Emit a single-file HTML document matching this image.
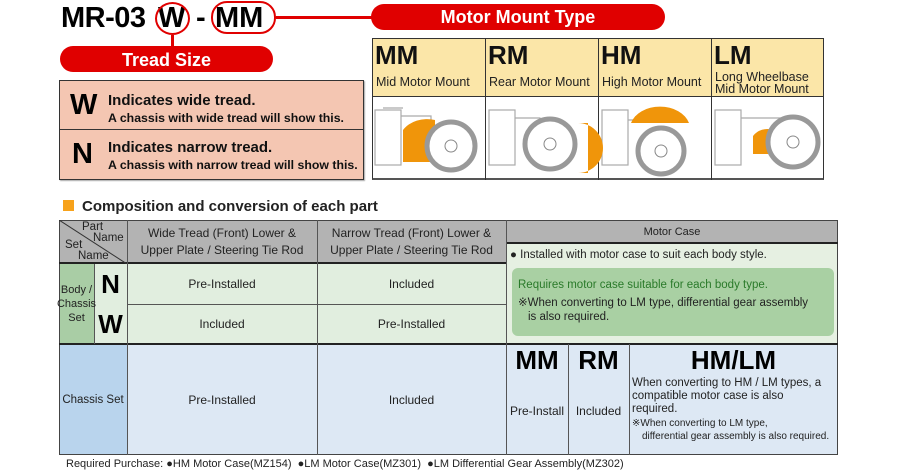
<!DOCTYPE html>
<html><head><meta charset="utf-8"><style>
*{margin:0;padding:0;box-sizing:border-box}
body{width:900px;height:476px;background:#fff;position:relative;overflow:hidden;font-family:"Liberation Sans",Arial,sans-serif;color:#111}
.a{position:absolute}
.pill{position:absolute;background:#e00000;color:#fff;font-weight:bold;border-radius:13px;text-align:center}
.c{position:absolute;display:flex;align-items:center;justify-content:center;text-align:center;font-size:12px;color:#222}
.hd{font-weight:bold;font-size:26px;line-height:26px}
.sub{font-size:12.5px;line-height:12px;color:#222}
.t{position:absolute;top:4px;font-size:29px;font-weight:bold;line-height:29px;color:#000}
</style></head><body>
<!-- title -->
<div class="t" style="left:61px;letter-spacing:-0.5px">MR-03</div>
<div class="t" style="left:158px">W</div>
<div class="t" style="left:196px">-</div>
<div class="t" style="left:215px">MM</div>
<div class="a" style="left:155px;top:2px;width:35px;height:33px;border:2.5px solid #e00000;border-radius:50%"></div>
<div class="a" style="left:211px;top:1px;width:65px;height:33px;border:2.5px solid #e00000;border-radius:16px"></div>
<div class="a" style="left:276px;top:16px;width:96px;height:2.5px;background:#e00000"></div>
<div class="a" style="left:171px;top:35px;width:2.5px;height:12px;background:#e00000"></div>
<div class="pill" style="left:371px;top:4px;width:294px;height:26px;font-size:18px;line-height:27px">Motor Mount Type</div>
<div class="pill" style="left:60px;top:46px;width:213px;height:26px;font-size:18px;line-height:28px">Tread Size</div>
<!-- pink box -->
<div class="a" style="left:59px;top:80px;width:305px;height:100px;background:#f4c6b2;border:1px solid #333;box-shadow:1px 1px 1px #aaa"></div>
<div class="a" style="left:59px;top:129px;width:305px;height:1px;background:#333"></div>
<div class="a" style="left:70px;top:89px;font-size:29px;font-weight:bold;color:#000">W</div>
<div class="a" style="left:72px;top:138px;font-size:29px;font-weight:bold;color:#000">N</div>
<div class="a" style="left:108px;top:92px;font-size:15px;font-weight:bold;line-height:17px">Indicates wide tread.<br><span style="font-size:12.3px">A chassis with wide tread will show this.</span></div>
<div class="a" style="left:108px;top:139px;font-size:15px;font-weight:bold;line-height:17px">Indicates narrow tread.<br><span style="font-size:12.3px">A chassis with narrow tread will show this.</span></div>
<!-- motor mount table -->
<div class="a" style="left:372px;top:38px;width:452px;height:142px;border:1px solid #333;border-bottom:2px solid #555;background:#fff"></div>
<div class="a" style="left:373px;top:39px;width:450px;height:58px;background:#fbe6a8;border-bottom:1px solid #333"></div>
<div class="a" style="left:485px;top:38px;width:1px;height:142px;background:#333"></div>
<div class="a" style="left:598px;top:38px;width:1px;height:142px;background:#333"></div>
<div class="a" style="left:711px;top:38px;width:1px;height:142px;background:#333"></div>
<div class="a hd" style="left:375px;top:42px">MM</div><div class="a sub" style="left:376px;top:76px">Mid Motor Mount</div>
<div class="a hd" style="left:488px;top:42px">RM</div><div class="a sub" style="left:489px;top:76px">Rear Motor Mount</div>
<div class="a hd" style="left:601px;top:42px">HM</div><div class="a sub" style="left:602px;top:76px">High Motor Mount</div>
<div class="a hd" style="left:714px;top:42px">LM</div><div class="a sub" style="left:715px;top:71px;line-height:12px">Long Wheelbase<br>Mid Motor Mount</div>
<svg class="a" style="left:373px;top:98px" width="450" height="80">
<g fill="none" stroke="#aaa" stroke-width="1.2">
<rect x="2" y="12" width="26" height="55"/><rect x="116" y="12" width="26" height="55"/><rect x="229" y="12" width="26" height="55"/><rect x="342" y="12" width="26" height="55"/>
<path d="M28 18 h30 v20 M10 10 h20"/><path d="M142 20 h25 l25 25"/><path d="M255 22 h40"/><path d="M368 20 h45 l10 10"/>
</g>
<path d="M30 32 a28 22 0 0 1 32 -10 v42 h-32z" fill="#f0950a"/>
<path d="M205 25 h10 v50 h-10 a25 25 0 0 0 0 -50z" fill="#f0950a"/>
<path d="M258 25 a30 22 0 0 1 58 0z" fill="#f0950a"/>
<path d="M380 38 a18 18 0 0 1 20 -6 v24 h-20z" fill="#f0950a"/>
<g fill="#fff" stroke="#999" stroke-width="5">
<circle cx="78" cy="48" r="24"/><circle cx="177" cy="46" r="25"/><circle cx="288" cy="53" r="23"/><circle cx="420" cy="44" r="25"/>
</g>
<g fill="none" stroke="#888" stroke-width="1"><circle cx="78" cy="48" r="6"/><circle cx="177" cy="46" r="6"/><circle cx="288" cy="53" r="6"/><circle cx="420" cy="44" r="6"/></g>
</svg>
<!-- section header -->
<div class="a" style="left:63px;top:200px;width:11px;height:11px;background:#f7a21b"></div>
<div class="a" style="left:82px;top:198px;font-size:15px;font-weight:bold;color:#222">Composition and conversion of each part</div>
<!-- main table backgrounds -->
<div class="a" style="left:59px;top:220px;width:779px;height:44px;background:#b3b3b3"></div>
<div class="a" style="left:59px;top:264px;width:447px;height:80px;background:#e1eedf"></div>
<div class="a" style="left:506px;top:243px;width:332px;height:101px;background:#e6f0e2"></div>
<div class="a" style="left:59px;top:264px;width:35px;height:80px;background:#a9cda5"></div>
<div class="a" style="left:59px;top:344px;width:779px;height:111px;background:#dde8f4"></div>
<div class="a" style="left:59px;top:344px;width:68px;height:111px;background:#b9d4ed"></div>
<div class="a" style="left:512px;top:268px;width:322px;height:68px;background:#a9d0a3;border-radius:6px"></div>
<!-- lines -->
<div class="a" style="left:59px;top:220px;width:779px;height:235px;border:1px solid #444"></div>
<div class="a" style="left:59px;top:262px;width:447px;height:2px;background:#222"></div>
<div class="a" style="left:506px;top:242px;width:332px;height:2px;background:#222"></div>
<div class="a" style="left:59px;top:343px;width:779px;height:2px;background:#222"></div>
<div class="a" style="left:127px;top:304px;width:379px;height:1px;background:#555"></div>
<div class="a" style="left:94px;top:264px;width:1px;height:80px;background:#555"></div>
<div class="a" style="left:127px;top:220px;width:1px;height:235px;background:#555"></div>
<div class="a" style="left:317px;top:220px;width:1px;height:235px;background:#555"></div>
<div class="a" style="left:506px;top:220px;width:1px;height:235px;background:#555"></div>
<div class="a" style="left:568px;top:344px;width:1px;height:111px;background:#555"></div>
<div class="a" style="left:629px;top:344px;width:1px;height:111px;background:#555"></div>
<svg class="a" style="left:59px;top:220px" width="68" height="44"><line x1="0" y1="0" x2="68" y2="44" stroke="#333"/></svg>
<!-- text -->
<div class="a" style="left:82px;top:222px;font-size:11.5px;color:#222;line-height:11px">Part<br><span style="margin-left:11px">Name</span></div>
<div class="a" style="left:65px;top:240px;font-size:11.5px;color:#222;line-height:11px">Set<br><span style="margin-left:13px">Name</span></div>
<div class="c" style="left:127px;top:222px;width:190px;height:40px;line-height:17px">Wide Tread (Front) Lower &amp;<br>Upper Plate / Steering Tie Rod</div>
<div class="c" style="left:317px;top:222px;width:189px;height:40px;line-height:17px">Narrow Tread (Front) Lower &amp;<br>Upper Plate / Steering Tie Rod</div>
<div class="c" style="left:506px;top:221px;width:332px;height:22px;font-size:11px">Motor Case</div>
<div class="c" style="left:59px;top:264px;width:35px;height:80px;font-size:11px;line-height:14px">Body /<br>Chassis<br>Set</div>
<div class="c" style="left:94px;top:264px;width:33px;height:40px;font-size:26px;font-weight:bold;color:#000">N</div>
<div class="c" style="left:94px;top:304px;width:33px;height:40px;font-size:26px;font-weight:bold;color:#000">W</div>
<div class="c" style="left:127px;top:264px;width:190px;height:40px">Pre-Installed</div>
<div class="c" style="left:317px;top:264px;width:189px;height:40px">Included</div>
<div class="c" style="left:127px;top:304px;width:190px;height:40px">Included</div>
<div class="c" style="left:317px;top:304px;width:189px;height:40px">Pre-Installed</div>
<div class="a" style="left:510px;top:249px;font-size:11.5px;color:#222">● Installed with motor case to suit each body style.</div>
<div class="a" style="left:518px;top:279px;font-size:11.5px;color:#2a7a2a">Requires motor case suitable for each body type.</div>
<div class="a" style="left:518px;top:296px;font-size:11.5px;color:#222;line-height:14px">※When converting to LM type, differential gear assembly<br><span style="margin-left:10px">is also required.</span></div>
<div class="c" style="left:59px;top:344px;width:68px;height:111px;font-size:11.5px">Chassis Set</div>
<div class="c" style="left:127px;top:344px;width:190px;height:111px">Pre-Installed</div>
<div class="c" style="left:317px;top:344px;width:189px;height:111px">Included</div>
<div class="a" style="left:506px;top:345px;width:62px;text-align:center;font-size:26px;font-weight:bold;color:#000">MM</div>
<div class="a" style="left:568px;top:345px;width:61px;text-align:center;font-size:26px;font-weight:bold;color:#000">RM</div>
<div class="a" style="left:629px;top:345px;width:209px;text-align:center;font-size:26px;font-weight:bold;color:#000">HM/LM</div>
<div class="c" style="left:506px;top:403px;width:62px;height:16px">Pre-Install</div>
<div class="c" style="left:568px;top:403px;width:61px;height:16px">Included</div>
<div class="a" style="left:632px;top:377px;font-size:11.5px;line-height:13px;color:#222">When converting to HM / LM types, a<br>compatible motor case is also<br>required.</div>
<div class="a" style="left:632px;top:417px;font-size:10px;line-height:13px;color:#222">※When converting to LM type,<br><span style="margin-left:10px">differential gear assembly is also required.</span></div>
<div class="a" style="left:66px;top:458px;font-size:11px;color:#222">Required Purchase: ●HM Motor Case(MZ154) &nbsp;●LM Motor Case(MZ301) &nbsp;●LM Differential Gear Assembly(MZ302)</div>
</body></html>
